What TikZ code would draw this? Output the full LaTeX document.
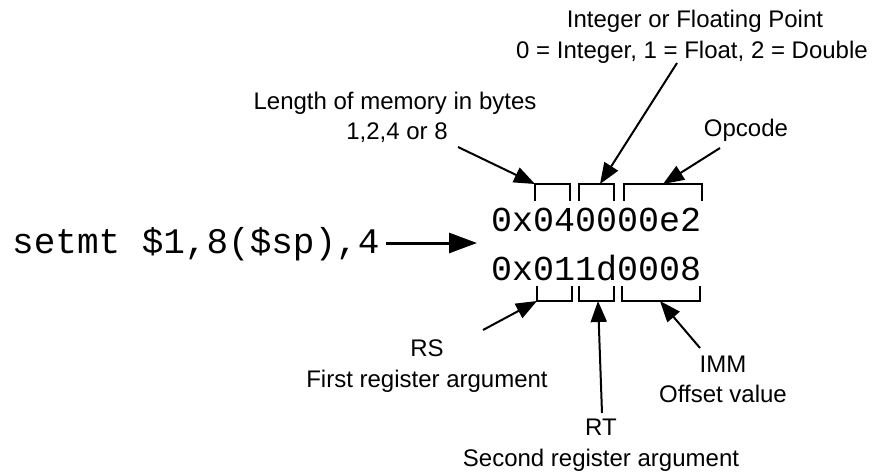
\documentclass[tikz,border=0pt]{standalone}
\usepackage{fontspec}
\setmainfont{Liberation Sans}
\setmonofont{Liberation Mono}
\usetikzlibrary{arrows.meta}
\begin{document}
\begin{tikzpicture}[x=1pt,y=-1pt,
  lbl/.style={font=\fontsize{24}{28}\selectfont, inner sep=0pt, anchor=base},
  hex/.style={font=\ttfamily\fontsize{35}{40}\selectfont, inner sep=0pt, anchor=base west},
  brk/.style={line width=2pt},
  ptr/.style={line width=2pt, -{Triangle[length=21pt,width=16pt]}},
  bigptr/.style={line width=3pt, -{Triangle[length=28pt,width=20pt]}}]
\useasboundingbox (0,0) rectangle (876,475);
% code text
\node[font=\ttfamily\fontsize{36}{40}\selectfont, inner sep=0pt, anchor=base west] (src) at (12,253) {setmt \$1,8(\$sp),4};
\node[hex] (h1) at (491,231) {0x040000e2};
\node[hex] (h2) at (491,280) {0x011d0008};
% main arrow
\coordinate (s0) at (386,243);
\coordinate (s1) at (477,243);
\draw[bigptr] (s0) -- (s1);
% top brackets
\draw[brk] (535,201) -- (535,184) coordinate (t1) -- (570,184) -- (570,201);
\draw[brk] (579,201) -- (579,184) -- (614,184) -- (614,201);
\path (600,184) coordinate (t2);
\draw[brk] (624,201) -- (624,184) -- (702,184) -- (702,201);
\path (663,184) coordinate (t3);
% bottom brackets
\draw[brk] (537,286) -- (537,301) coordinate (u1) -- (572,301) -- (572,286);
\draw[brk] (579,286) -- (579,301) -- (614,301) -- (614,286);
\path (598,301) coordinate (u2);
\draw[brk] (622,286) -- (622,301) -- (700,301) -- (700,286);
\path (660,301) coordinate (u3);
% top labels
\node[lbl] (ifp1) at (695,27) {Integer or Floating Point};
\node[lbl] (ifp2) at (692,58) {0 = Integer, 1 = Float, 2 = Double};
\node[lbl] (len1) at (395,109) {Length of memory in bytes};
\node[lbl] (len2) at (397,139) {1,2,4 or 8};
\node[lbl] (opc) at (746,136) {Opcode};
% bottom labels
\node[lbl] (rs1) at (427,356) {RS};
\node[lbl] (rs2) at (427,387) {First register argument};
\node[lbl] (rt1) at (601,435) {RT};
\node[lbl] (rt2) at (601,466) {Second register argument};
\node[lbl] (imm1) at (723,372) {IMM};
\node[lbl] (imm2) at (723,402) {Offset value};
% arrow tails
\coordinate (lenT) at (458,147);
\coordinate (ifpT) at (677,63);
\coordinate (opcT) at (720,148);
\coordinate (rsT) at (483,330);
\coordinate (rtT) at (602,413);
\coordinate (immT) at (700,348);
\draw[ptr] (lenT) -- (t1);
\draw[ptr] (ifpT) -- (t2);
\draw[ptr] (opcT) -- (t3);
\draw[ptr] (rsT) -- (u1);
\draw[ptr] (rtT) -- (u2);
\draw[ptr] (immT) -- (u3);
\end{tikzpicture}
\end{document}
